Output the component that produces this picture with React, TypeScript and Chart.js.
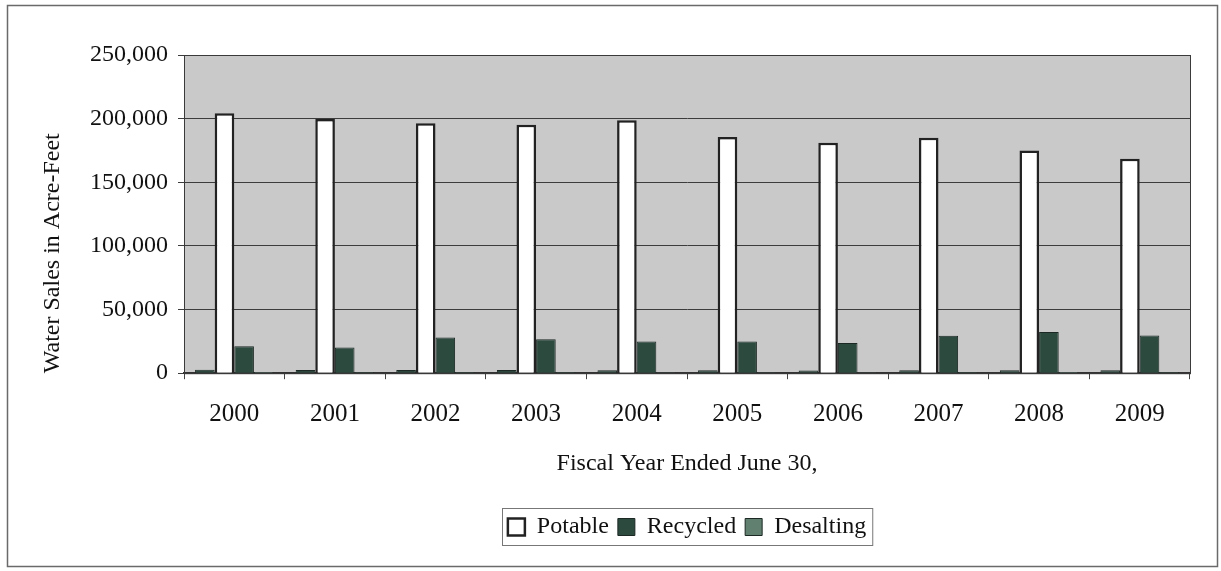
import React, { useEffect, useRef } from "react";
import { Chart, registerables } from "chart.js";

Chart.register(...registerables);

const categories = ["2000", "2001", "2002", "2003", "2004", "2005", "2006", "2007", "2008", "2009"];
const otherSales = [2800, 2600, 2500, 2500, 2300, 2300, 2200, 2400, 2400, 2300];
const potable = [204200, 199800, 196300, 195200, 198800, 185500, 181000, 185000, 175000, 168500];
const recycled = [21200, 20100, 28000, 26700, 24900, 24900, 23800, 29400, 32300, 29600];
const desalting = [1000, 900, 900, 900, 800, 800, 800, 900, 1000, 900];
const yTicks = [0, 50000, 100000, 150000, 200000, 250000];

const W = 1221;
const H = 571;
const FONT = "'Liberation Serif', 'Times New Roman', serif";

export default function App() {
  const ref = useRef<HTMLCanvasElement>(null);

  useEffect(() => {
    if (!ref.current) return;
    const framePlugin = {
      id: "frame",
      beforeDraw(chart: any) {
        const { ctx, chartArea: a } = chart;
        ctx.save();
        ctx.fillStyle = "#ffffff";
        ctx.fillRect(0, 0, W, H);
        ctx.strokeStyle = "#6a6a6a";
        ctx.lineWidth = 1.5;
        ctx.strokeRect(7.5, 5.5, 1210, 561);
        ctx.fillStyle = "#c9c9c9";
        ctx.fillRect(a.left, a.top, a.right - a.left, a.bottom - a.top);
        ctx.restore();
      },
      afterDraw(chart: any) {
        const { ctx, chartArea: a } = chart;
        ctx.save();
        ctx.strokeStyle = "#3a3a3a";
        ctx.lineWidth = 1;
        ctx.strokeRect(a.left + 0.5, a.top + 0.5, a.right - a.left, a.bottom - a.top);
        const boxes = chart.legend && chart.legend.legendHitBoxes;
        if (boxes && boxes.length) {
          let x0 = Infinity, y0 = Infinity, x1 = -Infinity, y1 = -Infinity;
          boxes.forEach((b: any) => {
            x0 = Math.min(x0, b.left);
            y0 = Math.min(y0, b.top);
            x1 = Math.max(x1, b.left + b.width);
            y1 = Math.max(y1, b.top + b.height);
          });
          ctx.strokeStyle = "#777";
          ctx.lineWidth = 1;
          ctx.strokeRect(Math.round(x0 - 6) + 0.5, Math.round(y0 - 7) + 0.5, x1 - x0 + 12, y1 - y0 + 13);
        }
        ctx.restore();
      },
    };

    const chart = new Chart(ref.current, {
      type: "bar",
      data: {
        labels: categories,
        datasets: [
          { label: "", data: otherSales, backgroundColor: "#2d473d", borderColor: "#1b2824", borderWidth: 1 },
          { label: "Potable", data: potable, backgroundColor: "#ffffff", borderColor: "#222222", borderWidth: 2.5 },
          { label: "Recycled", data: recycled, backgroundColor: "#2d4a3f", borderColor: "#1b2824", borderWidth: 1 },
          { label: "Desalting", data: desalting, backgroundColor: "#62806f", borderColor: "#1b2824", borderWidth: 1 },
        ],
      },
      options: {
        animation: false,
        responsive: false,
        maintainAspectRatio: false,
        layout: { padding: { left: 38, top: 55, right: 31, bottom: 22 } },
        datasets: { bar: { categoryPercentage: 0.78, barPercentage: 1 } },
        plugins: {
          tooltip: { enabled: false },
          legend: {
            position: "bottom",
            fullSize: false,
            labels: {
              filter: (item: any) => item.text !== "",
              font: { family: FONT, size: 24 },
              color: "#111",
              boxWidth: 17,
              boxHeight: 17,
              padding: 9,
            },
          },
        },
        scales: {
          x: {
            grid: { display: true, drawOnChartArea: false, offset: true, tickLength: 6, color: "#444" },
            border: { color: "#333", width: 2 },
            ticks: { font: { family: FONT, size: 25 }, color: "#111", padding: 20 },
            title: {
              display: true,
              text: "Fiscal Year Ended June 30,",
              font: { family: FONT, size: 24 },
              color: "#111",
              padding: { top: 0, bottom: 28 },
            },
          },
          y: {
            min: 0,
            max: 250000,
            afterFit: (scale: any) => {
              scale.width = 184 - 38;
            },
            afterBuildTicks: (scale: any) => {
              scale.ticks = yTicks.map((v) => ({ value: v }));
            },
            grid: { color: "#3c3c3c", lineWidth: 1, tickLength: 6 },
            border: { color: "#333", width: 1 },
            ticks: {
              font: { family: FONT, size: 24 },
              color: "#111",
              padding: 10,
              callback: (v: any) => Number(v).toLocaleString("en-US"),
            },
            title: {
              display: true,
              text: "Water Sales in Acre-Feet",
              align: "start",
              font: { family: FONT, size: 24 },
              color: "#111",
              padding: { top: 0, bottom: 0 },
            },
          },
        },
      },
      plugins: [framePlugin],
    } as any);
    return () => chart.destroy();
  }, []);

  return (
    <div style={{ position: "fixed", left: 0, top: 0, width: W, height: H }}>
      <canvas ref={ref} width={W} height={H} style={{ width: W, height: H, display: "block" }} />
    </div>
  );
}
